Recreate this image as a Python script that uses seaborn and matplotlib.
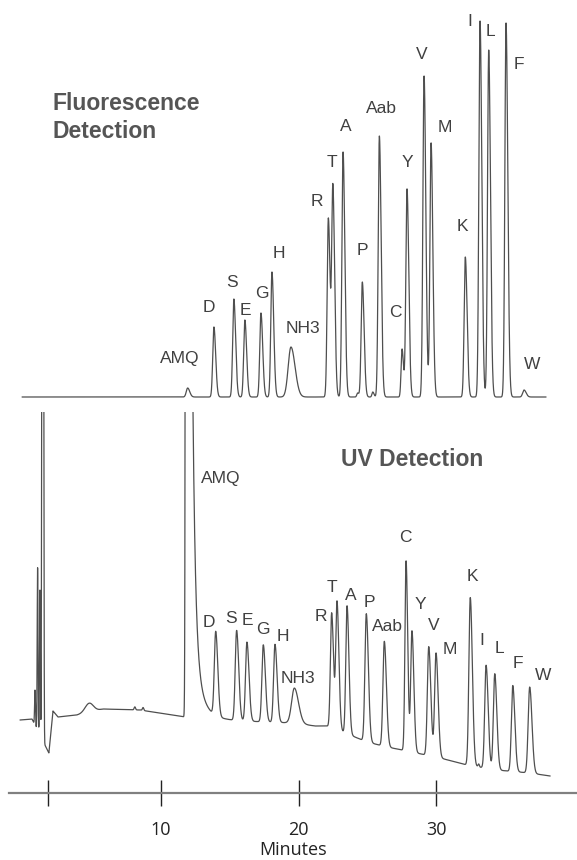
import numpy as np
import matplotlib
matplotlib.use('Agg')
import matplotlib.pyplot as plt
import seaborn as sns

# Peak table (retention time in minutes,
# peak height in relative response units above the local baseline)
names = ['AMQ', 'D', 'S', 'E', 'G', 'H', 'NH3', 'R', 'T', 'A', 'P', 'Aab',
         'C', 'Y', 'V', 'M', 'K', 'I', 'L', 'F', 'W']

fl_time = [11.94, 13.85, 15.30, 16.10, 17.27, 18.07, 19.45, 22.17, 22.50, 23.24, 24.64,
           25.88, 27.53, 27.89, 29.13, 29.64, 32.13, 33.20, 33.83, 35.09, 36.40]
fl_height = [9, 70, 98, 77, 84, 125, 50, 179, 207, 245, 115,
             261, 48, 208, 321, 254, 140, 376, 347, 374, 7]
fl_width = [0.10, 0.085, 0.085, 0.085, 0.085, 0.085, 0.20, 0.085, 0.085, 0.085, 0.085,
            0.085, 0.07, 0.085, 0.085, 0.085, 0.085, 0.085, 0.085, 0.085, 0.10]

uv_time = [11.85, 13.98, 15.50, 16.25, 17.44, 18.29, 19.70, 22.41, 22.80, 23.53, 24.93,
           26.24, 27.82, 28.25, 29.47, 30.00, 32.49, 33.64, 34.27, 35.58, 36.81]
uv_height = [2836, 84, 90, 79, 77, 78, 35, 115, 127, 128, 128,
             105, 190, 121, 109, 104, 168, 103, 96, 86, 86]
uv_width = [0.047, 0.10, 0.10, 0.10, 0.10, 0.10, 0.20, 0.09, 0.09, 0.09, 0.10,
            0.10, 0.08, 0.09, 0.10, 0.10, 0.10, 0.10, 0.10, 0.10, 0.11]

# AMQ reagent peak in UV is off scale and tails (two exponential decays)
amq_tail_amp = [2712, 124]
amq_tail_tau = [0.20, 0.65]

# small unlabeled features
fl_minor_time = [24.30, 25.40]
fl_minor_height = [4, 5]
fl_minor_width = [0.06, 0.06]

uv_minor_time = [0.84, 1.03, 1.20, 1.36, 1.45, 4.78, 8.10, 8.70, 33.10]
uv_minor_height = [35, 163, 145, 700, 700, 9, 3, 3, 3]
uv_minor_width = [0.03, 0.03, 0.03, 0.03, 0.03, 0.30, 0.05, 0.05, 0.05]

# UV baseline (drift + solvent front dip)
uv_base_time = [-0.25, 0.62, 1.85, 2.15, 2.51, 3.89, 5.78, 8.47, 11.75, 13.93, 19.67,
                21.2, 22.07, 22.87, 24.98, 26.44, 27.89, 30.3, 32.25, 34.4, 36.8, 38.3]
uv_base_level = [73, 74, 40, 82, 76, 78, 84, 83, 76, 73, 70,
                 67, 67, 63, 51, 46, 42, 35, 28, 23, 20, 17]

# x axis ticks (first one unlabeled)
tick_pos = [1.8, 10, 20, 30]
tick_lab = ['', '10', '20', '30']

# label offsets in pixels from each peak apex (layout only)
fl_label_dx = [-8, -5, -2, 1, 1, 7, 12, -11, -1, 3, 0, 2, -7, 0, -2, 14, -3, -10, 2, 13, 8]
fl_label_dy = [30, 20, 17, 10, 20, 19, 19, 16, 21, 26, 31, 28, 36, 26, 22, 15, 31, 0, 19, -41, 26]
uv_label_dx = [34, -7, -6, 0, 0, 8, 4, -11, -5, 4, 3, 3, -1, 8, 5, 14, 2, -4, 5, 5, 13]
uv_label_dy = [-66, 9, 12, 22, 15, 8, 10, -4, 13, 10, 11, 15, 23, 26, 21, 3, 21, 25, 25, 22, 12]


def peak(t, t0, h, s, tail=1.5):
    # slightly tailing gaussian
    sig = np.where(t < t0, s, s * tail)
    return h * np.exp(-0.5 * ((t - t0) / sig) ** 2)


t_fl = np.linspace(-0.1, 38.0, 8000)
y_fl = np.zeros_like(t_fl)
for t0, h, s in zip(fl_time + fl_minor_time, fl_height + fl_minor_height, fl_width + fl_minor_width):
    y_fl += peak(t_fl, t0, h, s)

t_uv = np.linspace(-0.25, 38.3, 8000)
y_uv = np.interp(t_uv, uv_base_time, uv_base_level).astype(float)
for i, (t0, h, s) in enumerate(zip(uv_time, uv_height, uv_width)):
    if names[i] == 'AMQ':
        front = np.where(t_uv < t0, h * np.exp(-0.5 * ((t_uv - t0) / s) ** 2), 0)
        back = sum(a * np.exp(-(t_uv - t0) / tau) for a, tau in zip(amq_tail_amp, amq_tail_tau))
        y_uv += front + np.where(t_uv >= t0, back, 0)
    else:
        y_uv += peak(t_uv, t0, h, s)
for t0, h, s in zip(uv_minor_time, uv_minor_height, uv_minor_width):
    y_uv += peak(t_uv, t0, h, s, tail=1.0)

sns.set_style('white')
plt.rcParams['font.family'] = ['Liberation Sans', 'DejaVu Sans']

W, H = 577, 860
fig = plt.figure(figsize=(W / 100, H / 100), dpi=100)
x0, xw = 9 / W, 568 / W
ax_fl = fig.add_axes([x0, 450 / H, xw, 410 / H])
ax_uv = fig.add_axes([x0, 67 / H, xw, 381 / H], sharex=ax_fl)

line_col = '#4f4f4f'
sns.lineplot(x=t_fl, y=y_fl, ax=ax_fl, color=line_col, linewidth=0.9, estimator=None, sort=False)
sns.lineplot(x=t_uv, y=y_uv, ax=ax_uv, color=line_col, linewidth=0.9, estimator=None, sort=False)

ax_fl.set_xlim(-1.05, 40.25)
ax_fl.set_ylim(-13, 397)
ax_uv.set_ylim(0, 381)
ax_fl.axis('off')

lab_kw = dict(textcoords='offset pixels', ha='center', va='center',
              fontsize=12.5, color='#404040', annotation_clip=False)
for i, name in enumerate(names):
    j = np.argmin(np.abs(t_fl - fl_time[i]))
    ax_fl.annotate(name, (fl_time[i], y_fl[j]), xytext=(fl_label_dx[i], fl_label_dy[i]), **lab_kw)
    k = np.argmin(np.abs(t_uv - uv_time[i]))
    ax_uv.annotate(name, (uv_time[i], min(y_uv[k], 381)), xytext=(uv_label_dx[i], uv_label_dy[i]), **lab_kw)

fig.text(53 / W, 1 - 104 / H, 'Fluorescence', ha='left', va='center', fontsize=16.5,
         fontweight='bold', color='#555555')
fig.text(53 / W, 1 - 132 / H, 'Detection', ha='left', va='center', fontsize=16.5,
         fontweight='bold', color='#555555')
fig.text(412 / W, 1 - 460 / H, 'UV Detection', ha='center', va='center', fontsize=16.5,
         fontweight='bold', color='#555555')

for side in ['left', 'top', 'right']:
    ax_uv.spines[side].set_visible(False)
ax_uv.spines['bottom'].set_color('#808080')
ax_uv.spines['bottom'].set_linewidth(1.6)
ax_uv.set_yticks([])
ax_uv.set_xticks(tick_pos, labels=tick_lab)
ax_uv.tick_params(axis='x', direction='inout', length=19, width=1.0, color='#222222',
                  pad=11, labelsize=13, labelcolor='#222222', bottom=True)
for lbl in ax_uv.get_xticklabels():
    lbl.set_fontfamily(['Open Sans', 'DejaVu Sans'])
ax_uv.set_xlabel('Minutes', fontsize=13, color='#222222', labelpad=1,
                 fontfamily=['Open Sans', 'DejaVu Sans'])
ax_uv.set_ylabel('')

fig.savefig('out.png', dpi=100)
